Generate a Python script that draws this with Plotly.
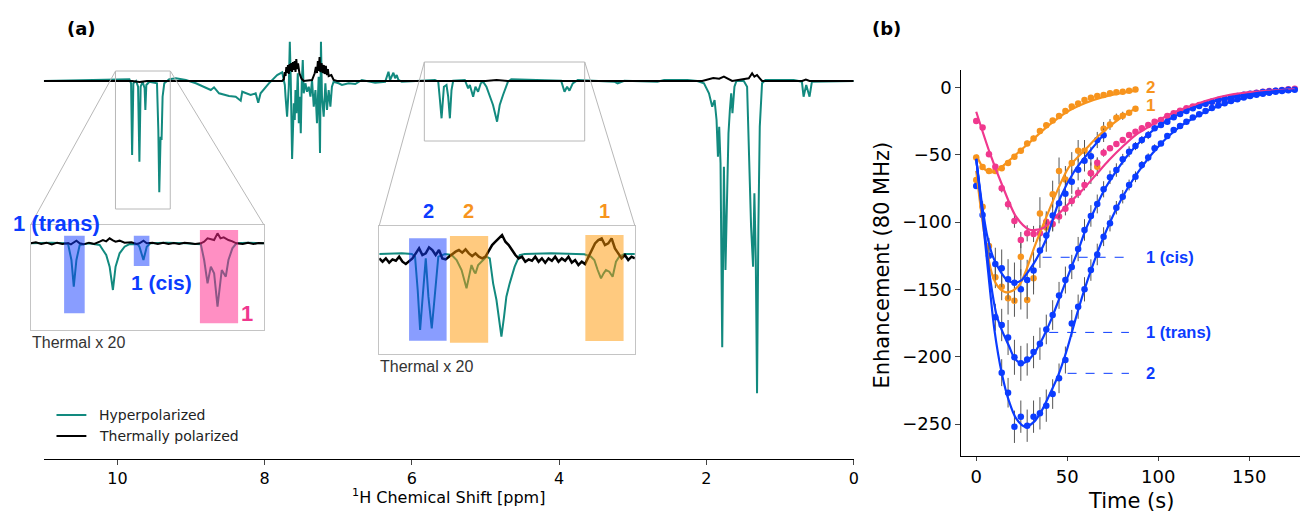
import plotly.graph_objects as go

W, H = 1305, 512

# ---------------- Panel (a): main spectrum ----------------
hyper_ppm = [11.0, 10.108, 9.838, 9.815, 9.801, 9.784, 9.747, 9.720, 9.702, 9.685, 9.658, 9.631, 9.621, 9.608,
             9.567, 9.463, 9.445, 9.432, 9.414, 9.401, 9.387, 9.364, 9.296, 9.206, 9.071, 8.935, 8.800, 8.732,
             8.688, 8.620, 8.485, 8.394, 8.326, 8.305, 8.191, 8.123, 8.088, 8.056, 7.943, 7.831, 7.763, 7.727,
             7.717, 7.696, 7.673, 7.659, 7.646, 7.628, 7.605, 7.592, 7.582, 7.569, 7.551, 7.537, 7.524, 7.510,
             7.497, 7.483, 7.470, 7.447, 7.425, 7.402, 7.379, 7.357, 7.334, 7.311, 7.290, 7.267, 7.249, 7.236,
             7.222, 7.199, 7.176, 7.154, 7.131, 7.108, 7.087, 7.064, 6.996, 6.951, 6.861, 6.770, 6.681, 6.500,
             6.364, 6.319, 6.297, 6.275, 6.252, 6.229, 6.207, 6.184, 6.139, 5.688, 5.643, 5.620, 5.598, 5.566,
             5.531, 5.508, 5.485, 5.463, 5.440, 5.282, 5.260, 5.237, 5.214, 5.169, 5.138, 5.102, 5.065, 5.034,
             4.989, 4.943, 4.899, 4.844, 4.808, 4.763, 4.696, 4.651, 4.380, 3.974, 3.928, 3.893, 3.861, 3.816,
             3.748, 3.252, 3.207, 3.116, 2.666, 2.575, 2.260, 2.125, 2.034, 1.966, 1.922, 1.890, 1.863, 1.844,
             1.827, 1.809, 1.786, 1.763, 1.742, 1.719, 1.701, 1.682, 1.664, 1.647, 1.620, 1.593, 1.493, 1.448,
             1.425, 1.394, 1.367, 1.349, 1.330, 1.313, 1.295, 1.276, 1.245, 1.200, 0.816, 0.704, 0.681, 0.645,
             0.600, 0.568, 0.0]
hyper_int = [0, 1, 1.7, -2.3, -74, -2.3, 0, -5.7, -80.7, -5.7, -0.7, -7.3, -29, -4,
             -0.7, -2.3, -49, -111.3, -55.7, -59, -15.7, -2.3, 1.7, 2.7, 1, -2.3, -6.3, -9,
             -6.3, -12.3, -15, -15.7, -19.7, -10.7, -14, -12.3, -21.7, -12.3, -2.3, 6, 8.7, -4,
             -15.7, -35.7, -5.7, 39.3, 1, -78, -22.3, -39, -9, -32.3, 7.7, -42.3, -15.7, -52.3,
             -2.3, 21, -12.3, -2.3, -10.7, -5.7, -15.7, 1, -25.7, -9, -42.3, 4.3, -72, 39.3,
             -15.7, -35.7, -2.3, -29, -9, -25.7, -5.7, -0.7, -2.3, -4, -2.3, -3, 1, -1.7,
             -0.7, 9.3, 1, 4.3, 8.3, 2.7, 6, 1, -0.7, 1, -0.7, -19, -37.3, -5.7,
             -4, -15.7, -37.3, -9, 0.3, 1, -2.3, -7.3, -4, -15.7, -5.7, -10.7, -2.3, -0.7,
             -5.7, -15.7, -24, -40.7, -24, -14, -0.7, 1.7, 1, 0.3, -10.7, -5.7, -9.7, -2.3,
             1, -0.7, -2.3, 0.3, -0.7, 1, 1, 0, -2.3, -12.3, -25.7, -19, -39, -75.7,
             -45.7, -82.3, -266.3, -85.7, -189, -112.3, -52.3, -29, -12.3, -32.3, -5.7, 0, 0, -5.7,
             -62.3, -145.7, -185.7, -112.3, -179, -312.3, -145.7, -45.7, -2.3, 1, 1, -0.7, -15.7, -4,
             -15.7, -0.7, 0]

thermal_ppm = [11.0, 9.8, 9.7, 9.6, 7.78, 7.763, 7.740, 7.728, 7.717, 7.706, 7.696, 7.684, 7.673, 7.661,
               7.650, 7.639, 7.628, 7.616, 7.605, 7.593, 7.582, 7.571, 7.560, 7.547, 7.528, 7.501, 7.470,
               7.402, 7.357, 7.321, 7.305, 7.290, 7.278, 7.267, 7.255, 7.244, 7.228, 7.212, 7.198, 7.185,
               7.170, 7.154, 7.142, 7.131, 7.095, 7.064, 7.019, 5.0, 4.85, 4.7, 2.057, 1.908, 1.827, 1.763,
               1.651, 1.425, 1.380, 1.349, 1.313, 1.276, 1.245, 0.7, 0.65, 0.6, 0.0]
thermal_int = [0, 0, -1, 0, 0, 0, 1.7, 9, 5, 14, 8, 16, 7, 17,
               10, 18, 9, 19, 11, 20, 9, 22, 12, 17.7, 7.7, 2.3, 0,
               0.3, 1, 7.7, 14, 8, 20, 10, 24, 9, 18, 8, 16, 7,
               15, 6, 12, 5, 6, 1, 0, 0, 1, 0, 0, 3, 2.3, 4.3,
               0, 2.7, 7.7, 4.3, 6, 2.7, 0, 0, 1.5, 0, 0]

ppm_ticks = [10, 8, 6, 4, 2, 0]

# ---------------- Left inset (x20 thermal) ----------------
inL_hyper_ppm = [11.0, 10.80, 10.68, 10.646, 10.615, 10.593, 10.568, 10.537, 10.45, 10.349, 10.318, 10.287,
                 10.255, 10.224, 10.199, 10.161, 10.114, 10.068, 9.99, 9.974, 9.936, 9.905, 9.87, 9.72, 9.54,
                 9.395, 9.364, 9.332, 9.301, 9.270, 9.238, 9.198, 9.160, 9.135, 9.098, 9.060, 8.95, 8.80]
inL_hyper_int = [0, 2, 0, -3, -50, -130, -50, -5, 0, -5, -20, -35,
                 -70, -140, -70, -30, -10, -2, -3, -10, -50, -10, 0, 2, 0,
                 -3, -50, -120, -70, -90, -190, -80, -100, -50, -15, 0, 2, 0]
inL_thermal_ppm = [11.0, 10.95, 10.9, 10.85, 10.8, 10.75, 10.7, 10.646, 10.62, 10.593, 10.568, 10.537, 10.50,
                   10.45, 10.40, 10.349, 10.318, 10.287, 10.255, 10.224, 10.199, 10.161, 10.114, 10.05, 10.0,
                   9.974, 9.936, 9.905, 9.85, 9.80, 9.75, 9.70, 9.65, 9.60, 9.55, 9.50, 9.45, 9.395, 9.364,
                   9.332, 9.301, 9.270, 9.238, 9.21, 9.180, 9.135, 9.098, 9.06, 9.00, 8.95, 8.90, 8.85, 8.80]
inL_thermal_int = [0, 3, -2, 2, -3, 2, -2, 1, -3, 3, 8, 0, -3,
                   2, -2, 5, 10, 6, 15, 9, 5, 8, 2, 3, -2,
                   0, 8, 0, 2, -2, 2, -2, 1, -2, 2, 0, -2, 0, 5,
                   15, 12, 10, 30, 15, 18, 10, 6, 0, -2, 2, -2, 1, 0]

# ---------------- Right inset (x20 thermal) ----------------
inR_hyper_ppm = [5.710, 5.514, 5.427, 5.399, 5.376, 5.355, 5.335, 5.306, 5.283, 5.254, 5.231, 5.197, 5.139,
                 5.081, 5.038, 4.995, 4.952, 4.923, 4.909, 4.885, 4.874, 4.851, 4.822, 4.779, 4.750, 4.721,
                 4.692, 4.672, 4.649, 4.626, 4.606, 4.577, 4.534, 4.490, 4.447, 4.217, 3.928, 3.871, 3.842,
                 3.813, 3.784, 3.761, 3.741, 3.712, 3.683, 3.654, 3.626, 3.582, 3.490]
inR_hyper_int = [0, 2, 0, -8, -108, -228, -138, -13, -128, -223, -138, -8, 0,
                 -3, -18, -48, -103, -53, -33, -53, -58, -33, -23, -8, -13, -88,
                 -138, -188, -248, -188, -128, -88, -38, -3, 0, 2, -1, -8, -18,
                 -48, -73, -58, -48, -53, -68, -23, -8, 0, 0]
inR_thermal_int = [-13, -23, -13, -26, -16, -20, -8, -23, -30, -20,
                   -13, 2, 17, -3, 2, 20, 12, -3, 12, -13,
                   -16, -8, 0, 7, 12, 4, 14, 2, -6, 2,
                   -8, -13, -8, 12, 27, 37, 47, 57, 37, 27,
                   12, -3, -13, -8, -23, -16, -20, -8, -23, -13,
                   -26, -13, -20, -8, -23, -13, -20, -8, -26, -18,
                   -33, -23, -30, -8, 12, 32, 42, 47, 27, 32,
                   47, 17, 2, -13, -3, -18, -8, -13]
inR_ppm_start, inR_ppm_end = 5.71, 3.49
inR_thermal_ppm = [inR_ppm_start + (inR_ppm_end - inR_ppm_start) * i / (len(inR_thermal_int) - 1)
                   for i in range(len(inR_thermal_int))]

# ---------------- Panel (b): enhancement vs time ----------------
t_or2 = [0, 3.5, 7, 10.5, 14, 17.5, 21, 24.5, 28, 31.5, 35, 38.5, 42, 45.5, 49, 52.5, 56, 59.5, 63, 66.5,
         70, 73.5, 77, 80.5, 84, 87.5]
e_or2 = [-52, -59, -62, -62, -60, -56, -51.4, -47, -41.5, -37.8, -32.3, -28, -24.6, -21.2, -17.5, -14.2,
         -11.8, -9.3, -7.6, -6.3, -5.6, -4.3, -3.6, -3.1, -2.4, -1.4]
err_or2 = [1, 1.5, 2, 2, 2, 2, 2, 2, 2, 2, 2, 2, 1.5, 1.5, 1.5, 1.5, 1, 1, 1, 1, 1, 1, 1, 1, 1, 1]

t_or1 = t_or2
e_or1 = [-68.7, -88.5, -117.7, -141, -148, -156.6, -158.3, -125.7, -157.8, -141.7, -93.5, -104, -79.2, -62,
         -68.3, -56, -47, -47, -63.7, -58.8, -30.6, -27.5, -22.4, -21, -18.7, -15.8]
err_or1 = [2, 4, 6, 8, 10, 12, 12, 14, 14, 12, 12, 12, 10, 10, 10, 8, 8, 8, 8, 7, 5, 4, 3, 3, 2, 2]

t_pink = [0, 3.5, 7, 10.5, 14, 17.5, 21, 24.5, 28, 31.5, 35, 38.5, 42, 45.5, 49, 52.5, 56, 59.5, 63, 66.5,
          70, 73.5, 77, 80.5, 84, 87.5, 91, 94.5, 98, 101.5, 105, 108.5, 112, 115.5, 119, 122.5, 126, 129.5,
          133, 136.5, 140, 143.5, 147, 150.5, 154, 157.5, 161, 164.5, 168, 171.5, 175]
e_pink = [-24.9, -29.8, -49.6, -58.8, -74.9, -86.8, -99.2, -113.3, -108.3, -108.8, -108.3, -99.7, -101.4,
          -95.9, -90, -84.3, -78.1, -72.4, -63.7, -55.8, -48.4, -45.2, -42, -39, -35.3, -32.8, -30.3, -27.9,
          -25.4, -24.1, -21.2, -19.2, -17.2, -15.5, -14.2, -13, -11.8, -10.5, -9.3, -8.8, -7.3, -6.8, -5.6,
          -4.8, -3.9, -3.1, -2.6, -2.4, -1.9, -1.3, -0.9]
err_pink = [1, 1, 2, 2, 3, 4, 5, 6, 6, 6, 6, 6, 5, 5, 5, 4, 4, 4, 3, 3, 3, 2, 2, 2, 2, 2, 2, 1.5, 1.5, 1.5,
            1, 1, 1, 1, 1, 1, 1, 1, 1, 1, 1, 1, 1, 1, 1, 1, 1, 1, 1, 1, 1]

t_cis = [0, 3.5, 7, 10.5, 14, 17.5, 21, 24.5, 28, 31.5, 35, 38.5, 42, 45.5, 49, 52.5, 56, 59.5, 63, 66.5, 70]
e_cis = [-73.2, -94.7, -125, -131, -134.3, -142.5, -145, -149.9, -143, -136, -121, -110, -95, -86, -79, -70,
         -61, -54.4, -51, -39, -35.5]
err_cis = [2, 4, 8, 12, 14, 15, 15, 15, 15, 14, 13, 12, 12, 11, 10, 9, 8, 8, 7, 6, 5]

t_trans = [10.5, 14, 17.5, 21, 24.5, 28, 31.5, 35, 38.5, 42, 45.5, 49, 52.5, 56, 59.5, 63, 66.5, 70, 73.5, 77,
           80.5, 84, 87.5, 91, 94.5, 98, 101.5, 105, 108.5, 112, 115.5, 119, 122.5, 126, 129.5, 133, 136.5,
           140, 143.5, 147, 150.5, 154, 157.5, 161, 164.5, 168, 171.5]
e_trans = [-170.7, -176.4, -185.7, -200.4, -204.9, -202, -196.5, -190.3, -179.7, -169, -154.4, -143, -133.3,
           -120, -105.8, -95.4, -86.5, -75.6, -66.7, -61.3, -53.3, -47.7, -43.5, -39, -35.3, -30.3, -27.9,
           -25.4, -22.1, -19.7, -17.5, -15.5, -13.8, -12, -10.6, -9.3, -8.2, -7.2, -6.3, -5.4, -4.7, -4,
           -3.4, -2.9, -2.4, -2, -1.6]
err_trans = [10, 12, 13, 13, 13, 12, 12, 12, 11, 11, 10, 10, 9, 9, 8, 8, 7, 6, 5, 5, 4, 4, 3, 3, 3, 2, 2, 2,
             2, 2, 1.5, 1.5, 1.5, 1, 1, 1, 1, 1, 1, 1, 1, 1, 1, 1, 1, 1, 1]

t_b2 = [14, 17.5, 21, 24.5, 28, 31.5, 35, 38.5, 42, 45.5, 49, 52.5, 56, 59.5, 63, 66.5, 70, 73.5, 77, 80.5,
        84, 87.5, 91, 94.5, 98, 101.5, 105, 108.5, 112, 115.5, 119, 122.5, 126, 129.5, 133, 136.5, 140,
        143.5, 147, 150.5, 154, 157.5, 161, 164.5, 168, 171.5, 175]
e_b2 = [-211.8, -226.7, -252, -244.5, -251.2, -244.5, -242, -236.3, -227.7, -216, -202.4, -175.2, -162.8,
        -149.9, -135.6, -124, -110.8, -100.9, -89.3, -81.1, -72.4, -66.3, -57.6, -51.9, -45.2, -41.5, -36,
        -31.6, -28.6, -25.4, -22.3, -19.8, -17.5, -15.3, -13.4, -11.7, -10.1, -8.7, -7.5, -6.4, -5.4, -4.6,
        -3.9, -3.2, -2.6, -2.1, -1.6]
err_b2 = [10, 11, 12, 12, 12, 12, 12, 12, 11, 11, 10, 10, 9, 9, 8, 8, 7, 6, 5, 5, 4, 4, 3, 3, 3, 2, 2, 2, 2, 2,
          1.5, 1.5, 1.5, 1, 1, 1, 1, 1, 1, 1, 1, 1, 1, 1, 1, 1, 1]

# fitted curves
fit_or2_t = [0, 4, 8, 12, 20, 30, 40, 50, 60, 70, 80, 87.5]
fit_or2_e = [-50, -60, -63, -61, -52, -40, -28, -18, -11.5, -7, -4, -2.5]
fit_or1_t = [0, 3, 6, 9, 12, 16, 20, 24, 27.4, 31, 36.5, 43.8, 51, 60, 67.5, 75, 81, 87.5]
fit_or1_e = [-62, -95, -122, -140, -148, -152, -151, -146, -136, -122, -103, -79, -59, -46, -35.5, -27, -21, -15.5]
fit_pink_t = [0, 7.3, 14.6, 21.9, 29, 36.5, 43.8, 51, 58.4, 65.7, 73, 80.3, 87.6, 94.9, 102.2, 109.5, 116.8,
              127.7, 138.7, 153.3, 175]
fit_pink_e = [-18, -48, -73.7, -96, -105.4, -104.6, -96, -86, -76.1, -65, -53.9, -44, -35.3, -29.1, -22.9,
              -18, -14.3, -9.3, -5.6, -3.1, -1.4]
fit_cis_t = [0, 3, 6, 9, 13, 17, 21, 25, 29, 32.8, 38, 46.5, 54, 62, 70]
fit_cis_e = [-53, -85, -110, -125, -136, -143, -145, -143, -136, -128, -114, -81, -62, -48, -35]
fit_trans_t = [0, 4, 8, 11, 14, 18, 21, 25, 29, 33, 37, 41, 45, 49, 53, 56, 60, 65, 70, 77, 84, 91, 98, 105,
               112, 119, 126, 133, 140, 150, 160, 171.5]
fit_trans_e = [-53, -100, -145, -168, -180, -192, -201, -205, -202, -195, -185, -173, -159, -145, -131, -121,
               -106, -91, -77, -62, -49, -39, -31, -24.5, -19.5, -15.3, -12, -9.4, -7.3, -5, -3.3, -2]
fit_b2_t = [0, 3, 6.4, 10, 14, 18, 22, 27, 32, 36, 40, 45, 50, 55, 59.5, 63, 66.5, 70, 77, 84, 91, 98, 105,
            112, 119, 126, 133, 140, 150, 160, 175]
fit_b2_e = [-53, -90, -135, -180, -212, -233, -246, -252, -248, -240, -229, -214, -194, -170, -150, -136, -123,
            -111, -90, -73, -59, -47, -37, -29, -23, -18, -14, -10.5, -7, -4.5, -2]

TEAL = '#128a7f'
BLUE = '#0b3cff'
PINK = '#f0388e'
ORANGE = '#f7941d'
GRAY = '#b8b8b8'


def px(x):
    return x / W


def py(y):
    return 1 - y / H


fig = go.Figure()

# main spectrum
fig.add_trace(go.Scatter(x=hyper_ppm, y=hyper_int, mode='lines', line=dict(color=TEAL, width=2),
                         xaxis='x', yaxis='y', hoverinfo='skip'))
fig.add_trace(go.Scatter(x=thermal_ppm, y=thermal_int, mode='lines', line=dict(color='black', width=2),
                         xaxis='x', yaxis='y', hoverinfo='skip'))
# left inset
fig.add_trace(go.Scatter(x=inL_hyper_ppm, y=inL_hyper_int, mode='lines', line=dict(color=TEAL, width=2),
                         xaxis='x2', yaxis='y2'))
fig.add_trace(go.Scatter(x=inL_thermal_ppm, y=inL_thermal_int, mode='lines', line=dict(color='black', width=2),
                         xaxis='x2', yaxis='y2'))
# right inset
fig.add_trace(go.Scatter(x=inR_hyper_ppm, y=inR_hyper_int, mode='lines', line=dict(color=TEAL, width=2),
                         xaxis='x3', yaxis='y3'))
fig.add_trace(go.Scatter(x=inR_thermal_ppm, y=inR_thermal_int, mode='lines', line=dict(color='black', width=2.5),
                         xaxis='x3', yaxis='y3'))

# panel b data
series = [
    (t_or2, e_or2, err_or2, ORANGE),
    (t_or1, e_or1, err_or1, ORANGE),
    (t_pink, e_pink, err_pink, PINK),
    (t_cis, e_cis, err_cis, BLUE),
    (t_trans, e_trans, err_trans, BLUE),
    (t_b2, e_b2, err_b2, BLUE),
]
for t, e, er, c in series:
    fig.add_trace(go.Scatter(x=t, y=e, mode='markers', marker=dict(color=c, size=6.5),
                             error_y=dict(type='data', array=er, color='#555555', thickness=1, width=0),
                             xaxis='x4', yaxis='y4'))
fits = [
    (fit_or2_t, fit_or2_e, ORANGE),
    (fit_or1_t, fit_or1_e, ORANGE),
    (fit_pink_t, fit_pink_e, PINK),
    (fit_cis_t, fit_cis_e, BLUE),
    (fit_trans_t, fit_trans_e, BLUE),
    (fit_b2_t, fit_b2_e, BLUE),
]
for t, e, c in fits:
    fig.add_trace(go.Scatter(x=t, y=e, mode='lines', line=dict(color=c, width=2.2, shape='spline', smoothing=0.8),
                             xaxis='x4', yaxis='y4'))

shapes = []
# zoom boxes on main spectrum
shapes.append(dict(type='rect', xref='x', yref='y', x0=10.027, x1=9.283, y0=-128, y1=10,
                   line=dict(color=GRAY, width=1)))
shapes.append(dict(type='rect', xref='x', yref='y', x0=5.832, x1=3.654, y0=-60, y1=19,
                   line=dict(color=GRAY, width=1)))
# connecting lines
for (x0, y0, x1, y1) in [(116, 71, 30.7, 225), (171, 71, 265, 225), (426, 62, 380.7, 225.7),
                         (587, 62, 637.3, 225.7)]:
    shapes.append(dict(type='line', xref='paper', yref='paper', x0=px(x0), y0=py(y0), x1=px(x1), y1=py(y1),
                       line=dict(color=GRAY, width=1)))
# highlighted regions in insets
BLUE_F = 'rgba(20,60,255,0.5)'
PINK_F = 'rgba(255,40,140,0.52)'
OR_F = 'rgba(255,150,0,0.5)'
for (xr, yr, a, b, c, d, col) in [
    ('x2', 'y2', 10.684, 10.490, -210, 23, BLUE_F),
    ('x2', 'y2', 10.027, 9.880, -68, 23, BLUE_F),
    ('x2', 'y2', 9.404, 9.044, -240, 40, PINK_F),
    ('x3', 'y3', 5.451, 5.125, -260, 47, BLUE_F),
    ('x3', 'y3', 5.096, 4.764, -266, 54, OR_F),
    ('x3', 'y3', 3.920, 3.588, -261, 57, OR_F),
]:
    shapes.append(dict(type='rect', xref=xr, yref=yr, x0=a, x1=b, y0=c, y1=d, fillcolor=col,
                       line=dict(width=0), layer='above'))
# legend lines
shapes.append(dict(type='line', xref='paper', yref='paper', x0=px(56.7), x1=px(86.7), y0=py(415), y1=py(415),
                   line=dict(color=TEAL, width=2)))
shapes.append(dict(type='line', xref='paper', yref='paper', x0=px(56.7), x1=px(86.7), y0=py(436), y1=py(436),
                   line=dict(color='black', width=2)))
# dashed label leaders in panel b
for (t0, t1, e) in [(36.5, 83.9, -126.1), (40.1, 83.9, -181.9), (50.2, 83.9, -212.3)]:
    shapes.append(dict(type='line', xref='x4', yref='y4', x0=t0, x1=t1, y0=e, y1=e,
                       line=dict(color=BLUE, width=1, dash='dash')))

annotations = []


def ann(text, x, y, size, color='black', family='DejaVu Sans', xanchor='center', textangle=0):
    annotations.append(dict(text=text, x=px(x), y=py(y), xref='paper', yref='paper', showarrow=False,
                            xanchor=xanchor, yanchor='middle', textangle=textangle,
                            font=dict(size=size, color=color, family=family)))


ann('<b>(a)</b>', 82, 28, 18)
ann('<b>(b)</b>', 890, 28, 18)
ann('<b>1 (trans)</b>', 57, 223, 22, BLUE, 'Liberation Sans')
ann('<b>1 (cis)</b>', 162, 282, 21, BLUE, 'Liberation Sans')
ann('<b>1</b>', 248, 313, 22, PINK, 'Liberation Sans')
ann('Thermal x 20', 30, 342, 16, '#333333', 'Liberation Sans', 'left')
ann('<b>2</b>', 430, 211, 20, BLUE, 'Liberation Sans')
ann('<b>2</b>', 470, 211, 20, ORANGE, 'Liberation Sans')
ann('<b>1</b>', 607, 211, 20, ORANGE, 'Liberation Sans')
ann('Thermal x 20', 379, 366, 16, '#333333', 'Liberation Sans', 'left')
ann('Hyperpolarized', 97, 415, 14, '#222222', 'DejaVu Sans', 'left')
ann('Thermally polarized', 97, 436, 14, '#222222', 'DejaVu Sans', 'left')
ann('<sup>1</sup>H Chemical Shift [ppm]', 450, 496, 16)
ann('Time (s)', 1135, 501, 21)
ann('Enhancement (80 MHz)', 885, 265, 21, textangle=-90)
ann('<b>2</b>', 1148, 87, 17, ORANGE, 'Liberation Sans', 'left')
ann('<b>1</b>', 1148, 105, 17, ORANGE, 'Liberation Sans', 'left')
ann('<b>1 (cis)</b>', 1148, 257, 16.5, BLUE, 'Liberation Sans', 'left')
ann('<b>1 (trans)</b>', 1148, 332, 16.5, BLUE, 'Liberation Sans', 'left')
ann('<b>2</b>', 1148, 373, 16.5, BLUE, 'Liberation Sans', 'left')

inset_axis = dict(showline=True, mirror=True, linecolor='#c4c4c4', linewidth=1, showgrid=False, zeroline=False,
                  showticklabels=False, ticks='')

fig.update_layout(
    width=W, height=H, margin=dict(l=0, r=0, t=0, b=0),
    paper_bgcolor='white', plot_bgcolor='white', showlegend=False,
    font=dict(family='DejaVu Sans', color='black'),
    xaxis=dict(domain=[px(44), px(857)], range=[11, 0], tickvals=ppm_ticks, ticks='outside', ticklen=5,
               tickwidth=1, showline=True, linecolor='black', linewidth=1, showgrid=False, zeroline=False,
               tickfont=dict(size=16), anchor='y'),
    yaxis=dict(domain=[py(459), py(35)], range=[-378, 46], visible=False, anchor='x'),
    xaxis2=dict(domain=[px(30.7), px(265)], range=[11.0, 8.8], anchor='y2', **inset_axis),
    yaxis2=dict(domain=[py(330), py(225)], range=[-260, 55], anchor='x2', **inset_axis),
    xaxis3=dict(domain=[px(380.7), px(637.3)], range=[5.71, 3.49], anchor='y3', **inset_axis),
    yaxis3=dict(domain=[py(354), py(225.7)], range=[-300, 85], anchor='x3', **inset_axis),
    xaxis4=dict(domain=[px(965), 1.0], range=[-8.2, 177.9], tickvals=[0, 50, 100, 150], ticks='outside',
                ticklen=4, tickwidth=1, showline=True, linecolor='black', linewidth=1, showgrid=False,
                zeroline=False, tickfont=dict(size=18), anchor='y4'),
    yaxis4=dict(domain=[py(456), py(70)], range=[-273.7, 13], tickvals=[0, -50, -100, -150, -200, -250],
                ticks='outside', ticklen=5, tickwidth=1, showline=True, linecolor='black', linewidth=1,
                showgrid=False, zeroline=False, tickfont=dict(size=18), anchor='x4'),
    shapes=shapes, annotations=annotations,
)

fig.write_html('out.html', config={'displayModeBar': False},
               post_script="document.body.style.margin='0';document.body.style.overflow='hidden';")
